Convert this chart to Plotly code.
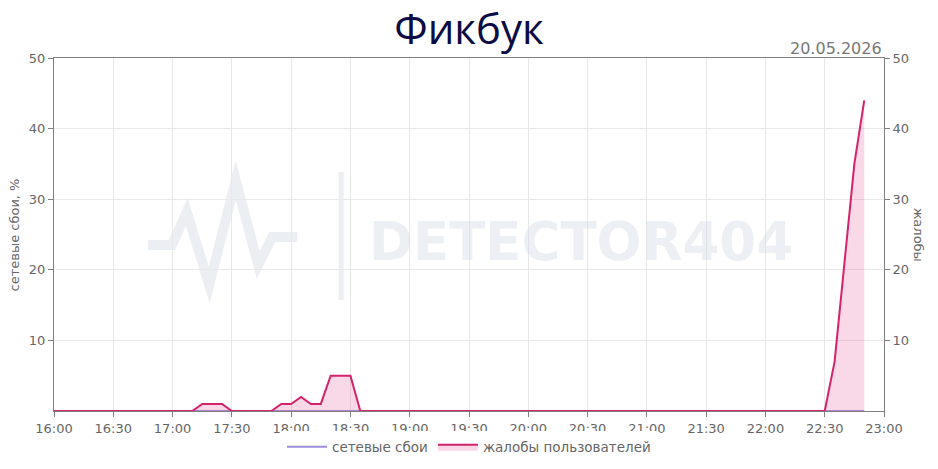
import plotly.graph_objects as go

times = ["16:00","16:05","16:10","16:15","16:20","16:25","16:30","16:35","16:40","16:45","16:50","16:55",
         "17:00","17:05","17:10","17:15","17:20","17:25","17:30","17:35","17:40","17:45","17:50","17:55",
         "18:00","18:05","18:10","18:15","18:20","18:25","18:30","18:35","18:40","18:45","18:50","18:55",
         "19:00","19:05","19:10","19:15","19:20","19:25","19:30","19:35","19:40","19:45","19:50","19:55",
         "20:00","20:05","20:10","20:15","20:20","20:25","20:30","20:35","20:40","20:45","20:50","20:55",
         "21:00","21:05","21:10","21:15","21:20","21:25","21:30","21:35","21:40","21:45","21:50","21:55",
         "22:00","22:05","22:10","22:15","22:20","22:25","22:30","22:35","22:40","22:45","22:50"]
complaints = [0,0,0,0,0,0,0,0,0,0,0,0,
              0,0,0,1,1,1,0,0,0,0,0,1,
              1,2,1,1,5,5,5,0,0,0,0,0,
              0,0,0,0,0,0,0,0,0,0,0,0,
              0,0,0,0,0,0,0,0,0,0,0,0,
              0,0,0,0,0,0,0,0,0,0,0,0,
              0,0,0,0,0,0,0,7,21,35,44]
failures = [0] * len(times)
tick_labels = ["16:00","16:30","17:00","17:30","18:00","18:30","19:00","19:30","20:00",
               "20:30","21:00","21:30","22:00","22:30","23:00"]
y_ticks = [10, 20, 30, 40, 50]

day = "2026-05-20 "
x = [day + t for t in times]
tickvals = [day + t for t in tick_labels]

fig = go.Figure()
fig.add_trace(go.Scatter(x=x, y=failures, name="сетевые сбои", mode="lines",
                         line=dict(color="#9b8fdc", width=2)))
fig.add_trace(go.Scatter(x=x, y=complaints, name="жалобы пользователей", mode="lines",
                         line=dict(color="#d4236b", width=2), fill="tozeroy",
                         fillcolor="rgba(232,90,155,0.24)", yaxis="y2"))

font13 = dict(family="DejaVu Sans", size=13, color="#666")
axis_common = dict(range=[0, 50], tickvals=y_ticks, showgrid=True, gridcolor="#e8e8e8",
                   showline=True, linecolor="#808080", linewidth=1, ticks="outside", ticklen=5,
                   tickcolor="#808080", tickfont=font13, automargin=False,
                   zeroline=False, fixedrange=True)
wm = "rgba(205,213,224,0.38)"

fig.update_layout(
    width=938, height=469,
    margin=dict(l=54, r=54, t=58, b=58, autoexpand=False),
    paper_bgcolor="white", plot_bgcolor="white",
    title=dict(text="Фикбук", x=0.5, xanchor="center", y=0.938, yanchor="middle",
               font=dict(family="Open Sans", size=42, color="#0b0b45")),
    xaxis=dict(range=[day + "16:00", day + "23:00"], tickvals=tickvals, ticktext=tick_labels,
               showgrid=True, gridcolor="#e8e8e8", showline=True, linecolor="#808080", mirror=True,
               ticks="outside", ticklen=5, tickcolor="#808080", automargin=False,
               tickfont=font13, zeroline=False),
    yaxis=dict(**axis_common),
    yaxis2=dict(**axis_common, overlaying="y", side="right"),
    legend=dict(orientation="h", x=0.5, xanchor="center", y=-0.058, yanchor="top",
                font=dict(family="DejaVu Sans", size=13.5, color="#666"), itemwidth=40),
    showlegend=True,
    annotations=[
        dict(text="20.05.2026", xref="paper", yref="paper", x=1, y=1, xanchor="right", yanchor="bottom",
             yshift=-2, showarrow=False, font=dict(family="DejaVu Sans", size=16, color="#777")),
        dict(text="сетевые сбои, %", xref="paper", yref="paper", x=-0.047, y=0.5,
             xanchor="center", yanchor="middle", textangle=-90, showarrow=False, font=font13),
        dict(text="жалобы", xref="paper", yref="paper", x=1.042, y=0.5,
             xanchor="center", yanchor="middle", textangle=90, showarrow=False, font=font13),
        dict(text="<b>DETECTOR404</b>", xref="paper", yref="paper", x=0.635, y=0.48,
             xanchor="center", yanchor="middle", showarrow=False,
             font=dict(family="DejaVu Sans", size=53, color=wm)),
    ],
    shapes=[
        dict(type="path", xref="paper", yref="paper",
             path="M 0.113 0.47 L 0.142 0.47 L 0.160 0.564 L 0.187 0.357 L 0.219 0.654 L 0.246 0.414 L 0.263 0.493 L 0.293 0.493",
             line=dict(color="rgba(205,213,224,0.4)", width=10), layer="below"),
        dict(type="line", xref="paper", yref="paper", x0=0.346, x1=0.346, y0=0.314, y1=0.677,
             line=dict(color="rgba(205,213,224,0.4)", width=5), layer="below"),
    ],
)

fig.write_html("out.html", config={"displayModeBar": False},
               post_script="document.body.style.margin='0';document.body.style.overflow='hidden';window.dispatchEvent(new Event('resize'));")
